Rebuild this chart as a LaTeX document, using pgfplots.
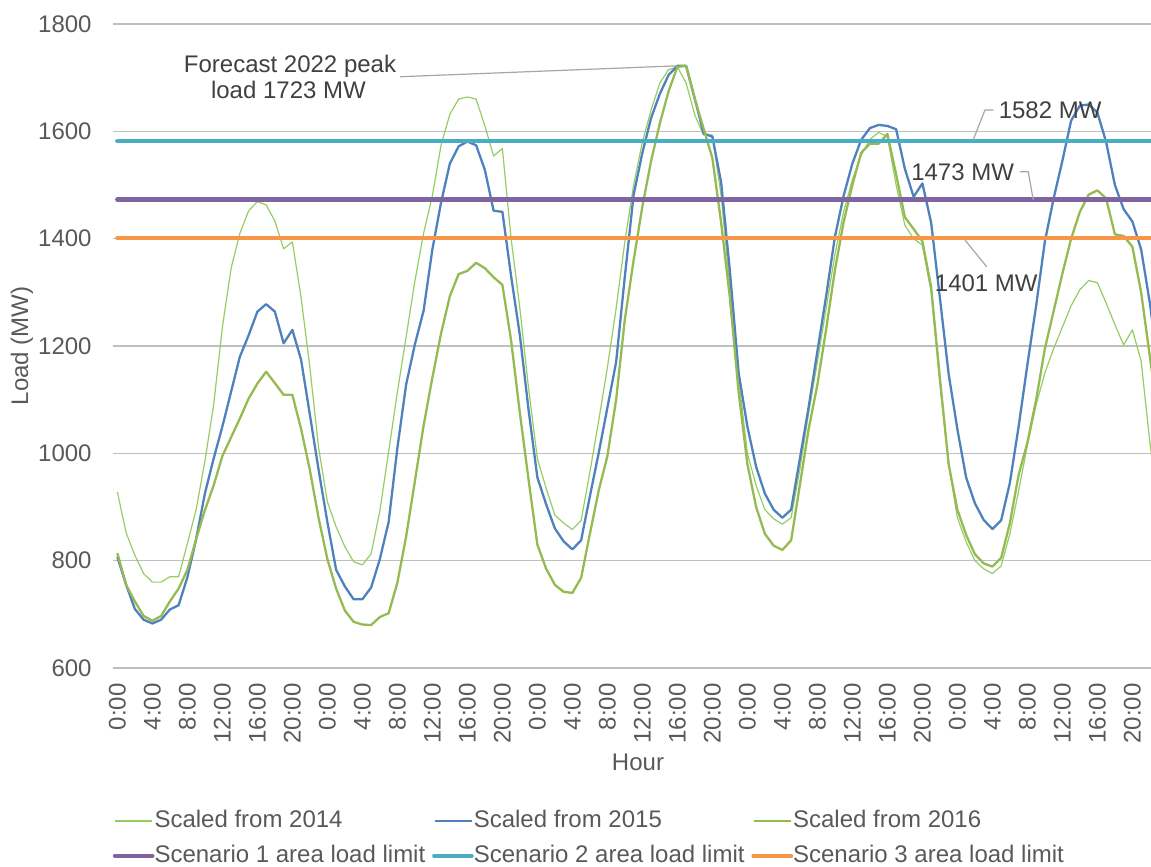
\documentclass[border=0pt]{standalone}
\usepackage{fontspec}
\setmainfont{Liberation Sans}
\usepackage{pgfplots}
\pgfplotsset{compat=1.18}
\usepackage{pgfplotstable}
\definecolor{c14}{RGB}{150,204,100}
\definecolor{c15}{RGB}{79,129,189}
\definecolor{c16}{RGB}{150,186,82}
\definecolor{cs1}{RGB}{128,100,162}
\definecolor{cs2}{RGB}{75,172,198}
\definecolor{cs3}{RGB}{247,150,70}
\definecolor{gridc}{RGB}{191,191,191}
\definecolor{tickc}{RGB}{89,89,89}
\definecolor{annc}{RGB}{64,64,64}
\definecolor{leadc}{RGB}{166,166,166}

\pgfplotstableread{
h T B G
0 928 807 814
1 852 755 755
2 810 710 724
3 776 690 697
4 760 683 688
5 760 690 697
6 770 709 724
7 770 717 748
8 832 769 783
9 895 840 840
10 985 925 894
11 1090 990 940
12 1235 1050 995
13 1345 1115 1030
14 1410 1180 1065
15 1452 1220 1102
16 1469 1264 1130
17 1463 1278 1152
18 1433 1264 1131
19 1381 1205 1109
20 1394 1230 1109
21 1290 1174 1045
22 1160 1072 969
23 1010 969 879
24 910 872 803
25 863 783 748
26 826 752 707
27 798 728 686
28 792 728 681
29 813 750 680
30 893 803 695
31 1003 872 702
32 1114 1010 759
33 1217 1128 845
34 1321 1203 948
35 1410 1266 1052
36 1480 1380 1141
37 1575 1468 1224
38 1632 1540 1293
39 1660 1572 1334
40 1664 1581 1340
41 1660 1574 1355
42 1610 1528 1345
43 1554 1452 1328
44 1568 1450 1314
45 1400 1330 1210
46 1270 1220 1075
47 1120 1080 950
48 990 955 830
49 935 905 785
50 885 860 755
51 870 836 742
52 858 821 740
53 875 838 768
54 965 920 850
55 1060 1000 930
56 1160 1085 995
57 1270 1170 1100
58 1395 1330 1250
59 1500 1482 1360
60 1580 1560 1460
61 1640 1625 1545
62 1690 1670 1615
63 1715 1705 1675
64 1720 1722 1720
65 1690 1722 1722
66 1630 1660 1660
67 1593 1596 1605
68 1593 1590 1550
69 1480 1505 1430
70 1310 1340 1290
71 1140 1150 1114
72 1000 1050 980
73 940 975 900
74 895 925 850
75 878 895 828
76 868 880 820
77 880 895 838
78 970 990 941
79 1075 1086 1045
80 1170 1190 1128
81 1270 1293 1231
82 1370 1403 1341
83 1450 1480 1431
84 1510 1540 1500
85 1555 1584 1560
86 1585 1606 1577
87 1598 1612 1577
88 1590 1610 1595
89 1500 1604 1520
90 1425 1530 1440
91 1400 1478 1418
92 1388 1503 1395
93 1300 1430 1310
94 1130 1290 1140
95 980 1148 980
96 880 1045 895
97 835 955 848
98 800 907 812
99 785 876 795
100 776 859 789
101 790 875 805
102 850 945 870
103 930 1050 960
104 1015 1165 1020
105 1090 1275 1100
106 1150 1395 1195
107 1195 1475 1265
108 1235 1545 1335
109 1275 1620 1400
110 1305 1648 1450
111 1322 1650 1482
112 1318 1635 1490
113 1280 1580 1475
114 1240 1500 1408
115 1202 1455 1405
116 1230 1432 1385
117 1172 1380 1300
118 1020 1280 1180
119 900 1150 1060
}\loaddata

\begin{document}
\begin{tikzpicture}
\begin{axis}[
  at={(56.5pt,99.5pt)}, anchor=south west,
  scale only axis, width=525pt, height=322pt,
  xmin=-0.5, xmax=119.5, ymin=600, ymax=1800,
  ytick={600,800,...,1800},
  xtick={0,4,...,116},
  xticklabels={0:00,4:00,8:00,12:00,16:00,20:00,0:00,4:00,8:00,12:00,16:00,20:00,0:00,4:00,8:00,12:00,16:00,20:00,0:00,4:00,8:00,12:00,16:00,20:00,0:00,4:00,8:00,12:00,16:00,20:00},
  ymajorgrids,
  grid style={line width=0.6pt, color=gridc},
  axis line style={draw=none},
  major tick length=0pt,
  /pgf/number format/assume math mode=true,
  /pgf/number format/1000 sep={},
  tick label style={font=\fontsize{12}{14}\selectfont, text=tickc},
  yticklabel style={anchor=east, inner sep=0pt},
  yticklabel shift=10.5pt,
  xticklabel style={rotate=90, anchor=east, inner sep=0pt},
  xticklabel shift=7.5pt,
  xlabel={Hour}, ylabel={Load (MW)},
  label style={font=\fontsize{12}{14}\selectfont, text=tickc},
  xlabel style={at={(axis description cs:0.5,-0.1584)}, anchor=base},
  ylabel style={at={(axis description cs:-0.0867,0.5)}, anchor=center},
  legend columns=3,
  legend cell align=left,
  legend image code/.code={\draw[#1, overlay] (0pt,0pt) -- (18.5pt,0pt); \path (0pt,0pt) -- (16pt,0pt);},
  legend style={at={(axis description cs:0,-0.2202)}, anchor=north west,
    draw=none, fill=none, inner sep=0pt, outer sep=0pt,
    font=\fontsize{12}{14}\selectfont, text=tickc, row sep=6.4pt,
    nodes={inner xsep=0pt, inner ysep=0pt, text height=8.6pt, text depth=2.5pt},
    /tikz/every odd column/.append style={column sep=2.5pt},
    /tikz/every even column/.append style={column sep=3.5pt}},
  line join=round,
]
\addplot[c14, line width=0.6pt] table[x=h, y=T] {\loaddata};
\addlegendentry{Scaled from 2014}
\addplot[c15, line width=1.15pt] table[x=h, y=B] {\loaddata};
\addlegendentry{Scaled from 2015}
\addplot[c16, line width=1.15pt] table[x=h, y=G] {\loaddata};
\addlegendentry{Scaled from 2016}
\addplot[cs1, line width=2.25pt, line cap=round] coordinates {(0,1473) (119,1473)};
\addlegendentry{Scenario 1 area load limit}
\addplot[cs2, line width=2.25pt, line cap=round] coordinates {(0,1582) (119,1582)};
\addlegendentry{Scenario 2 area load limit}
\addplot[cs3, line width=2.25pt, line cap=round] coordinates {(0,1401) (119,1401)};
\addlegendentry{Scenario 3 area load limit}

\draw[leadc, line width=0.6pt] (axis cs:32.3,1701.7) -- (axis cs:63.92,1722);
\draw[leadc, line width=0.6pt] (axis cs:100.1,1639.7) -- (axis cs:99.15,1639.7) -- (axis cs:97.8,1583.8);
\draw[leadc, line width=0.6pt] (axis cs:103.15,1524.8) -- (axis cs:104.1,1524.8) -- (axis cs:104.67,1472);
\draw[leadc, line width=0.6pt] (axis cs:96.87,1397.4) -- (axis cs:99.35,1347.7);

\node[anchor=base, inner sep=0pt, font=\fontsize{12}{14}\selectfont, text=annc] at (axis cs:19.73,1710.5) {Forecast 2022 peak};
\node[anchor=base, inner sep=0pt, font=\fontsize{12}{14}\selectfont, text=annc] at (axis cs:19.55,1662) {load 1723 MW};
\node[anchor=base, inner sep=0pt, font=\fontsize{12}{14}\selectfont, text=annc] at (axis cs:106.6,1624) {1582 MW};
\node[anchor=base, inner sep=0pt, font=\fontsize{12}{14}\selectfont, text=annc] at (axis cs:96.6,1509) {1473 MW};
\node[anchor=base, inner sep=0pt, font=\fontsize{12}{14}\selectfont, text=annc] at (axis cs:99.3,1301) {1401 MW};
\end{axis}
\pgfresetboundingbox
\path[use as bounding box] (0,0) rectangle (575.5pt,433.5pt);
\end{tikzpicture}
\end{document}
